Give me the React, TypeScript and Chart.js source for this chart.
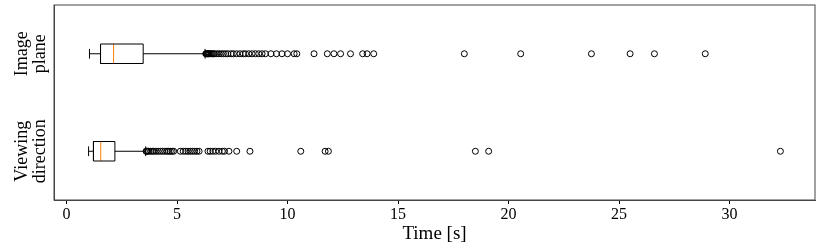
import React, { useEffect, useRef } from 'react';
import { Chart, registerables } from 'chart.js';

Chart.register(...registerables);

// ---- Data ----
const categories: string[][] = [['Viewing', 'direction'], ['Image', 'plane']];
const positions = [1, 2];
const whiskerLow = [1.0, 1.04];
const q1 = [1.22, 1.54];
const medians = [1.55, 2.13];
const q3 = [2.19, 3.47];
const whiskerHigh = [3.58, 6.27];

const outliersViewing = [
  3.6, 3.63, 3.67, 3.72, 3.8, 3.88, 3.95, 4.05, 4.15, 4.25, 4.35, 4.45, 4.55, 4.62, 4.7, 4.78, 4.85,
  5.15, 5.28, 5.4, 5.5, 5.6, 5.7, 5.8, 5.9, 6.0, 6.4, 6.5, 6.62, 6.75, 6.9, 7.05, 7.15, 7.35, 7.7, 8.3,
  10.6, 11.7, 11.85, 18.5, 19.1, 32.3,
];
const outliersImage = [
  6.3, 6.32, 6.35, 6.38, 6.4, 6.43, 6.46, 6.5, 6.55, 6.6, 6.65, 6.7, 6.8, 6.9, 7.0, 7.1, 7.2, 7.3,
  7.45, 7.55, 7.7, 7.85, 8.0, 8.1, 8.25, 8.4, 8.55, 8.7, 8.85, 9.0, 9.25, 9.5, 9.75, 10.0, 10.3, 10.42,
  11.2, 11.8, 12.1, 12.4, 12.85, 13.4, 13.6, 13.9, 18.0, 20.55, 23.75, 25.5, 26.6, 28.9,
];
const outliers = [outliersViewing, outliersImage];

const xTickValues = [0, 5, 10, 15, 20, 25, 30];
const xTitle = 'Time [s]';

// ---- Styles ----
const BOX_HALF = 0.1;
const CAP_HALF = 0.05;
const FONT = "'Liberation Serif', 'Times New Roman', serif";
const FRAME = '#444';

function boxOutline(i: number) {
  const p = positions[i];
  const gap = { x: q1[i], y: null as any };
  return [
    { x: q1[i], y: p - BOX_HALF }, { x: q3[i], y: p - BOX_HALF }, { x: q3[i], y: p + BOX_HALF },
    { x: q1[i], y: p + BOX_HALF }, { x: q1[i], y: p - BOX_HALF }, gap,
    { x: q1[i], y: p }, { x: whiskerLow[i], y: p }, gap,
    { x: whiskerLow[i], y: p - CAP_HALF }, { x: whiskerLow[i], y: p + CAP_HALF }, gap,
    { x: q3[i], y: p }, { x: whiskerHigh[i], y: p }, gap,
    { x: whiskerHigh[i], y: p - CAP_HALF }, { x: whiskerHigh[i], y: p + CAP_HALF },
  ];
}

const allValues = [...whiskerLow, ...whiskerHigh, ...outliersViewing, ...outliersImage];
const dMin = Math.min(...allValues);
const dMax = Math.max(...allValues);
const margin = (dMax - dMin) * 0.05;

const framePlugin = {
  id: 'frame',
  afterDraw(chart: any) {
    const { ctx, chartArea } = chart;
    ctx.save();
    ctx.strokeStyle = FRAME;
    ctx.lineWidth = 1;
    ctx.strokeRect(chartArea.left, chartArea.top, chartArea.right - chartArea.left, chartArea.bottom - chartArea.top);
    ctx.restore();
  },
};

export default function App() {
  const ref = useRef<HTMLCanvasElement>(null);
  useEffect(() => {
    document.body.style.margin = '0';
    const datasets: any[] = [];
    positions.forEach((p, i) => {
      datasets.push({
        data: boxOutline(i),
        showLine: true,
        borderColor: '#000',
        borderWidth: 1,
        pointRadius: 0,
        spanGaps: false,
      });
      datasets.push({
        data: [{ x: medians[i], y: p - BOX_HALF }, { x: medians[i], y: p + BOX_HALF }],
        showLine: true,
        borderColor: '#ff7f0e',
        borderWidth: 1,
        pointRadius: 0,
      });
      datasets.push({
        data: outliers[i].map((v) => ({ x: v, y: p })),
        showLine: false,
        pointStyle: 'circle',
        pointRadius: 3,
        borderWidth: 1,
        borderColor: '#000',
        backgroundColor: 'rgba(0,0,0,0)',
      });
    });

    const chart = new Chart(ref.current!, {
      type: 'scatter',
      data: { datasets },
      plugins: [framePlugin],
      options: {
        animation: false,
        responsive: false,
        devicePixelRatio: 1,
        layout: { padding: { left: 0, top: 3, right: 15, bottom: 0 } },
        plugins: { legend: { display: false }, tooltip: { enabled: false } },
        scales: {
          x: {
            type: 'linear',
            min: dMin - margin,
            max: dMax + margin,
            afterBuildTicks: (scale: any) => {
              scale.ticks = xTickValues.map((v) => ({ value: v }));
            },
            afterFit: (scale: any) => {
              scale.height = 49;
              scale.paddingLeft = 0;
              scale.paddingRight = 0;
            },
            grid: {
              drawOnChartArea: false,
              drawTicks: true,
              tickLength: 4,
              color: '#000',
            },
            border: { display: true, color: FRAME, width: 1 },
            ticks: {
              color: '#000',
              padding: 1,
              font: { family: FONT, size: 16 },
              maxRotation: 0,
              minRotation: 0,
            },
            title: {
              display: true,
              text: xTitle,
              color: '#000',
              font: { family: FONT, size: 19 },
              padding: { top: 0, bottom: 4 },
            },
          },
          y: {
            type: 'linear',
            min: 0.5,
            max: 2.5,
            afterBuildTicks: (scale: any) => {
              scale.ticks = positions.map((v) => ({ value: v }));
            },
            afterFit: (scale: any) => {
              scale.width = 54;
              scale.paddingTop = 0;
              scale.paddingBottom = 0;
            },
            grid: { display: false, drawTicks: false },
            border: { display: true, color: FRAME, width: 1 },
            ticks: {
              color: '#000',
              crossAlign: 'center',
              padding: -9,
              minRotation: 90,
              maxRotation: 90,
              font: { family: FONT, size: 18, lineHeight: 1.0 },
              callback: (v: any) => categories[positions.indexOf(Number(v))] as any,
            },
          },
        },
      } as any,
    });
    return () => chart.destroy();
  }, []);
  return <canvas ref={ref} width={830} height={249} style={{ display: 'block' }} />;
}
